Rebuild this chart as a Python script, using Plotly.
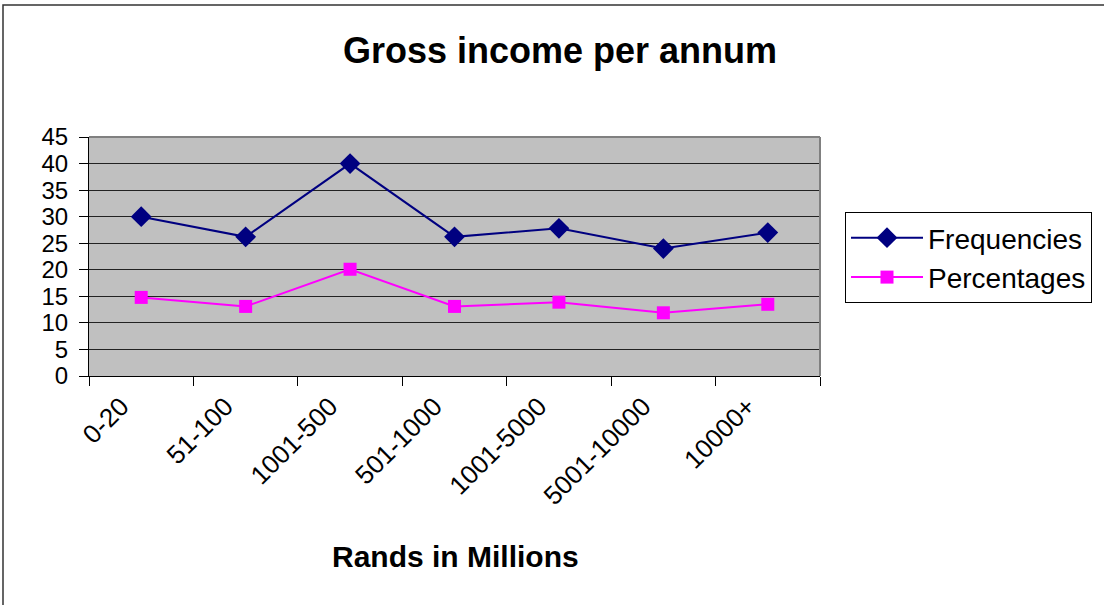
import plotly.graph_objects as go

categories = ["0-20", "51-100", "1001-500", "501-1000", "1001-5000", "5001-10000", "10000+"]
frequencies = [30, 26.2, 40, 26.2, 27.8, 24, 27]
percentages = [14.8, 13.1, 20.1, 13.1, 13.9, 11.9, 13.5]
y_ticks = [0, 5, 10, 15, 20, 25, 30, 35, 40, 45]

FONT = "Arial, Liberation Sans, sans-serif"
W, H = 1104, 605
L, R, T, B = 89, 820, 137, 376
pw, ph = R - L, B - T

def px(x):
    return (x - L) / pw

def py(y):
    return (B - y) / ph

fig = go.Figure()
fig.add_trace(go.Scatter(
    x=categories, y=frequencies, name="Frequencies", mode="lines+markers",
    line=dict(color="#000080", width=2),
    marker=dict(symbol="diamond", size=16, color="#000080"),
    legendgroup="a",
))
fig.add_trace(go.Scatter(
    x=categories, y=percentages, name="Percentages", mode="lines+markers",
    line=dict(color="#FF00FF", width=2),
    marker=dict(symbol="square", size=13, color="#FF00FF"),
    legendgroup="b",
))

fig.update_layout(
    width=W, height=H,
    margin=dict(l=L, r=W - R, t=T, b=H - B, autoexpand=False),
    paper_bgcolor="white",
    plot_bgcolor="#C0C0C0",
    font=dict(family=FONT, color="black", size=26),
    title=dict(text="<b>Gross income per annum</b>", xref="container", yref="container",
               x=560 / W, y=1 - 50 / H, xanchor="center", yanchor="middle",
               font=dict(size=36, family=FONT, color="black")),
    showlegend=True,
    legend=dict(x=px(845), y=py(212), xanchor="left", yanchor="top",
                bordercolor="black", borderwidth=1, bgcolor="white",
                font=dict(size=28, family=FONT), tracegroupgap=0,
                itemwidth=72),
    xaxis=dict(type="category", showgrid=False, showline=True, linecolor="black", linewidth=1,
               ticks="outside", tickson="boundaries", ticklen=9, tickcolor="black",
               tickangle=-45, tickfont=dict(size=26, family=FONT), mirror=False,
               range=[-0.5, 6.5], ticklabelstandoff=4, ticklabelshift=-20),
    yaxis=dict(range=[0, 45], tickvals=y_ticks, showgrid=True, gridcolor="#222222", gridwidth=1,
               showline=True, linecolor="black", linewidth=1, ticks="outside", ticklen=9,
               tickcolor="black", tickfont=dict(size=24, family=FONT), zeroline=False,
               ticklabelstandoff=6),
    shapes=[
        dict(type="line", xref="paper", yref="paper", x0=0, x1=1, y0=1, y1=1,
             line=dict(color="#808080", width=2)),
        dict(type="line", xref="paper", yref="paper", x0=1, x1=1, y0=0, y1=1,
             line=dict(color="#808080", width=2)),
        dict(type="rect", xref="paper", yref="paper", x0=px(3), x1=px(1115), y0=py(615), y1=py(5),
             line=dict(color="#333333", width=1.5), layer="below"),
    ],
    annotations=[
        dict(text="<b>Rands in Millions</b>", xref="paper", yref="paper", x=px(455), y=py(556),
             xanchor="center", yanchor="middle", showarrow=False,
             font=dict(size=30, family=FONT, color="black")),
    ],
)

fig.write_html("out.html")
